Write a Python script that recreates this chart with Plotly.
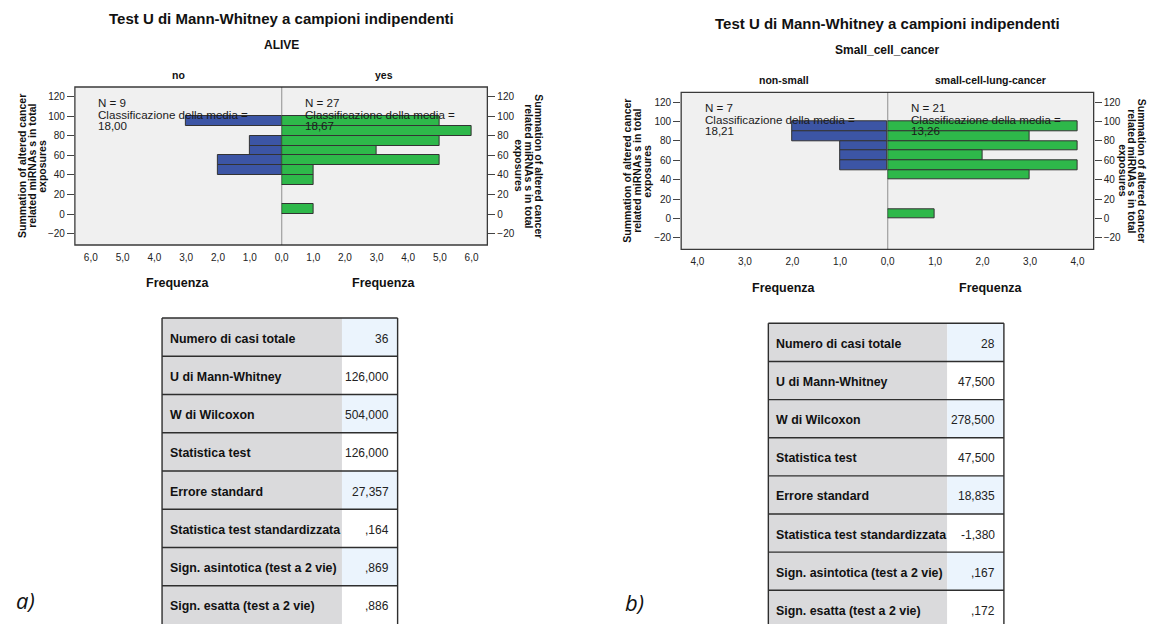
import plotly.graph_objects as go

W, H = 1151, 624


def px(x):
    return x / W


def py(y):
    return 1 - y / H


FONT = "Liberation Sans, Arial, sans-serif"

# ---------------- data ----------------
title_text = "Test U di Mann-Whitney a campioni indipendenti"
freq_label = "Frequenza"
y_title_lines = ["Summation of altered cancer", "related miRNAs s in total", "exposures"]
y_ticks = [-20, 0, 20, 40, 60, 80, 100, 120]

# chart a) ALIVE
a_variable = "ALIVE"
a_groups = ["no", "yes"]
a_no_bins = [95, 75, 65, 55, 45]
a_no_freq = [3, 1, 1, 2, 2]
a_yes_bins = [95, 85, 75, 65, 55, 45, 35, 5]
a_yes_freq = [5, 6, 5, 3, 5, 1, 1, 1]
a_info = [["N = 9", "Classificazione della media =", "18,00"],
          ["N = 27", "Classificazione della media =", "18,67"]]
a_xticks = [0, 1, 2, 3, 4, 5, 6]
a_xticktext = ["0,0", "1,0", "2,0", "3,0", "4,0", "5,0", "6,0"]
a_xmax = 6.5

# chart b) Small_cell_cancer
b_variable = "Small_cell_cancer"
b_groups = ["non-small", "small-cell-lung-cancer"]
b_non_bins = [95, 85, 75, 65, 55]
b_non_freq = [2, 2, 1, 1, 1]
b_scl_bins = [95, 85, 75, 65, 55, 45, 5]
b_scl_freq = [4, 3, 4, 2, 4, 3, 1]
b_info = [["N = 7", "Classificazione della media =", "18,21"],
          ["N = 21", "Classificazione della media =", "13,26"]]
b_xticks = [0, 1, 2, 3, 4]
b_xticktext = ["0,0", "1,0", "2,0", "3,0", "4,0"]
b_xmax = 4.34

# tables
table_labels = ["Numero di casi totale", "U di Mann-Whitney", "W di Wilcoxon",
                "Statistica test", "Errore standard", "Statistica test standardizzata",
                "Sign. asintotica (test a 2 vie)", "Sign. esatta (test a 2 vie)"]
a_table_values = ["36", "126,000", "504,000", "126,000", "27,357", ",164", ",869", ",886"]
b_table_values = ["28", "47,500", "278,500", "47,500", "18,835", "-1,380", ",167", ",172"]

panel_letters = ["a)", "b)"]

# ---------------- styles ----------------
BLUE = "#3C55A5"
GREEN = "#2EB84A"
EDGE = "#333333"
PLOT_BG = "#F0F0F0"
LABEL_BG = "#DADADC"
VALUE_BG = ["#EBF4FD", "#FFFFFF"]

fig = go.Figure()
annotations = []
shapes = []
layout_axes = {}


def add_chart(idx, geo, left_bins, left_freq, right_bins, right_freq,
              xticks, xticktext, xmax, variable, groups, info):
    xl = "x" if idx == 1 else f"x{idx}"
    xr = f"x{idx + 1}"
    yl = "y" if idx == 1 else f"y{idx}"
    yr = f"y{idx + 1}"
    xl_key = "xaxis" if idx == 1 else f"xaxis{idx}"
    xr_key = f"xaxis{idx + 1}"
    yl_key = "yaxis" if idx == 1 else f"yaxis{idx}"
    yr_key = f"yaxis{idx + 1}"

    fig.add_trace(go.Bar(x=left_freq, y=left_bins, orientation="h", width=10,
                         marker=dict(color=BLUE, line=dict(color=EDGE, width=1)),
                         xaxis=xl, yaxis=yl, hoverinfo="x+y"))
    fig.add_trace(go.Bar(x=right_freq, y=right_bins, orientation="h", width=10,
                         marker=dict(color=GREEN, line=dict(color=EDGE, width=1)),
                         xaxis=xr, yaxis=yr, hoverinfo="x+y"))

    ydom = [py(geo["y1"]), py(geo["y0"])]
    tickfont = dict(family=FONT, size=10, color="#222222")
    xcommon = dict(showgrid=False, zeroline=False, showline=False, ticks="outside",
                   ticklen=3, tickcolor="rgba(0,0,0,0)", tickfont=tickfont,
                   fixedrange=True)
    layout_axes[xl_key] = dict(domain=[px(geo["x0"]), px(geo["xm"])], range=[xmax, 0],
                               anchor=yl, tickvals=xticks[1:], ticktext=xticktext[1:],
                               **xcommon)
    layout_axes[xr_key] = dict(domain=[px(geo["xm"]), px(geo["x1"])], range=[0, xmax],
                               anchor=yr, tickvals=xticks, ticktext=xticktext, **xcommon)
    ycommon = dict(domain=ydom, range=[-31.7, 130], showgrid=False, zeroline=False,
                   showline=False, ticks="outside", ticklen=7, tickcolor="#444444",
                   tickvals=y_ticks, tickfont=tickfont, fixedrange=True)
    layout_axes[yl_key] = dict(anchor=xl, side="left", **ycommon)
    layout_axes[yr_key] = dict(anchor=xr, side="right", **ycommon)

    # frame and divider
    shapes.append(dict(type="rect", xref="paper", yref="paper",
                       x0=px(geo["x0"]), x1=px(geo["x1"]), y0=ydom[0], y1=ydom[1],
                       line=dict(color="#3A3A3A", width=1.3), layer="above"))
    shapes.append(dict(type="line", xref=xr, yref=f"{yr} domain", x0=0, x1=0, y0=0, y1=1,
                       line=dict(color="#1A1A1A", width=1), layer="above"))

    cx = (geo["x0"] + geo["x1"]) / 2
    annotations.append(dict(text=f"<b>{title_text}</b>", x=px(cx), y=py(geo["ty"]),
                            font=dict(family=FONT, size=15, color="#111111")))
    annotations.append(dict(text=f"<b>{variable}</b>", x=px(cx), y=py(geo["sy"]),
                            font=dict(family=FONT, size=12, color="#111111")))
    lc = (geo["x0"] + geo["xm"]) / 2
    rc = (geo["xm"] + geo["x1"]) / 2
    for c, g in zip([lc, rc], groups):
        annotations.append(dict(text=f"<b>{g}</b>", x=px(c), y=py(geo["gy"]),
                                font=dict(family=FONT, size=10.5, color="#111111")))
        annotations.append(dict(text=f"<b>{freq_label}</b>", x=px(c), y=py(geo["fy"]),
                                font=dict(family=FONT, size=12.5, color="#111111")))
    for xs, lines in zip([geo["ilx"], geo["irx"]], info):
        for yy, t in zip(geo["iy"], lines):
            annotations.append(dict(text=t, x=px(xs), y=py(yy), xanchor="left",
                                    font=dict(family=FONT, size=11.6, color="#1A1A1A")))
    ymid = (geo["y0"] + geo["y1"]) / 2
    for xs, t in zip(geo["ytl"], y_title_lines):
        annotations.append(dict(text=f"<b>{t}</b>", x=px(xs), y=py(ymid), textangle=-90,
                                font=dict(family=FONT, size=10.5, color="#111111")))
    for xs, t in zip(geo["ytr"], y_title_lines):
        annotations.append(dict(text=f"<b>{t}</b>", x=px(xs), y=py(ymid), textangle=90,
                                font=dict(family=FONT, size=10.5, color="#111111")))


def add_table(geo, labels, values):
    for i, (lab, val) in enumerate(zip(labels, values)):
        top = geo["top"] + i * geo["rh"]
        bot = min(top + geo["rh"], H)
        shapes.append(dict(type="rect", xref="paper", yref="paper", x0=px(geo["x0"]),
                           x1=px(geo["xm"]), y0=py(bot), y1=py(top), fillcolor=LABEL_BG,
                           line=dict(width=0), layer="below"))
        shapes.append(dict(type="rect", xref="paper", yref="paper", x0=px(geo["xm"]),
                           x1=px(geo["x1"]), y0=py(bot), y1=py(top),
                           fillcolor=VALUE_BG[i % 2], line=dict(width=0), layer="below"))
        shapes.append(dict(type="line", xref="paper", yref="paper", x0=px(geo["x0"]),
                           x1=px(geo["x1"]), y0=py(top), y1=py(top),
                           line=dict(color="#2E2E2E", width=1.4)))
        cy = (top + top + geo["rh"]) / 2 + 1.5
        annotations.append(dict(text=f"<b>{lab}</b>", x=px(geo["x0"] + 5.5), y=py(cy),
                                xanchor="left",
                                font=dict(family=FONT, size=12.4, color="#111111")))
        annotations.append(dict(text=val, x=px(geo["x1"] - 6.5), y=py(cy), xanchor="right",
                                font=dict(family=FONT, size=12, color="#222222")))
    bottom = H + 2
    for xx in [geo["x0"], geo["x1"]]:
        shapes.append(dict(type="line", xref="paper", yref="paper", x0=px(xx), x1=px(xx),
                           y0=py(bottom), y1=py(geo["top"]),
                           line=dict(color="#2E2E2E", width=1.4)))


geo_a = dict(x0=68.3, xm=276.3, x1=483.3, y0=87, y1=245, ty=18.3, sy=45, gy=75, fy=283.3,
             ilx=90, irx=298.3, iy=[102.7, 114, 125.3], ytl=[15, 25, 35],
             ytr=[535, 525, 515])
geo_b = dict(x0=678.3, xm=886, x1=1093.3, y0=92.3, y1=249.3, ty=23.3, sy=50, gy=80,
             fy=288.3, ilx=700, irx=907.7, iy=[107.7, 119, 130.3],
             ytl=[623.7, 633.9, 643.8], ytr=[1142, 1132.5, 1123.5])

add_chart(1, geo_a, a_no_bins, a_no_freq, a_yes_bins, a_yes_freq, a_xticks, a_xticktext,
          a_xmax, a_variable, a_groups, a_info)
add_chart(3, geo_b, b_non_bins, b_non_freq, b_scl_bins, b_scl_freq, b_xticks, b_xticktext,
          b_xmax, b_variable, b_groups, b_info)

add_table(dict(x0=156, xm=337, x1=393, top=318, rh=38.24), table_labels, a_table_values)
add_table(dict(x0=766, xm=946, x1=1003, top=323.3, rh=38.14), table_labels, b_table_values)

for (lx, ly), t in zip([(18.5, 600), (631, 602)], panel_letters):
    annotations.append(dict(text=f"<i>{t}</i>", x=px(lx), y=py(ly),
                            font=dict(family="Open Sans, DejaVu Sans, sans-serif", size=22,
                                      color="#111111")))

for a in annotations:
    a.setdefault("xref", "paper")
    a.setdefault("yref", "paper")
    a.setdefault("showarrow", False)
    a.setdefault("xanchor", "center")
    a.setdefault("yanchor", "middle")

fig.update_layout(width=W, height=H, margin=dict(l=0, r=0, t=0, b=0),
                  paper_bgcolor="white", plot_bgcolor=PLOT_BG, showlegend=False,
                  annotations=annotations, shapes=shapes, bargap=0, **layout_axes)

fig.write_html("out.html", config={"displayModeBar": False},
               post_script="document.body.style.margin='0px';"
                           "document.body.style.padding='0px';"
                           "document.body.style.overflow='hidden';")
